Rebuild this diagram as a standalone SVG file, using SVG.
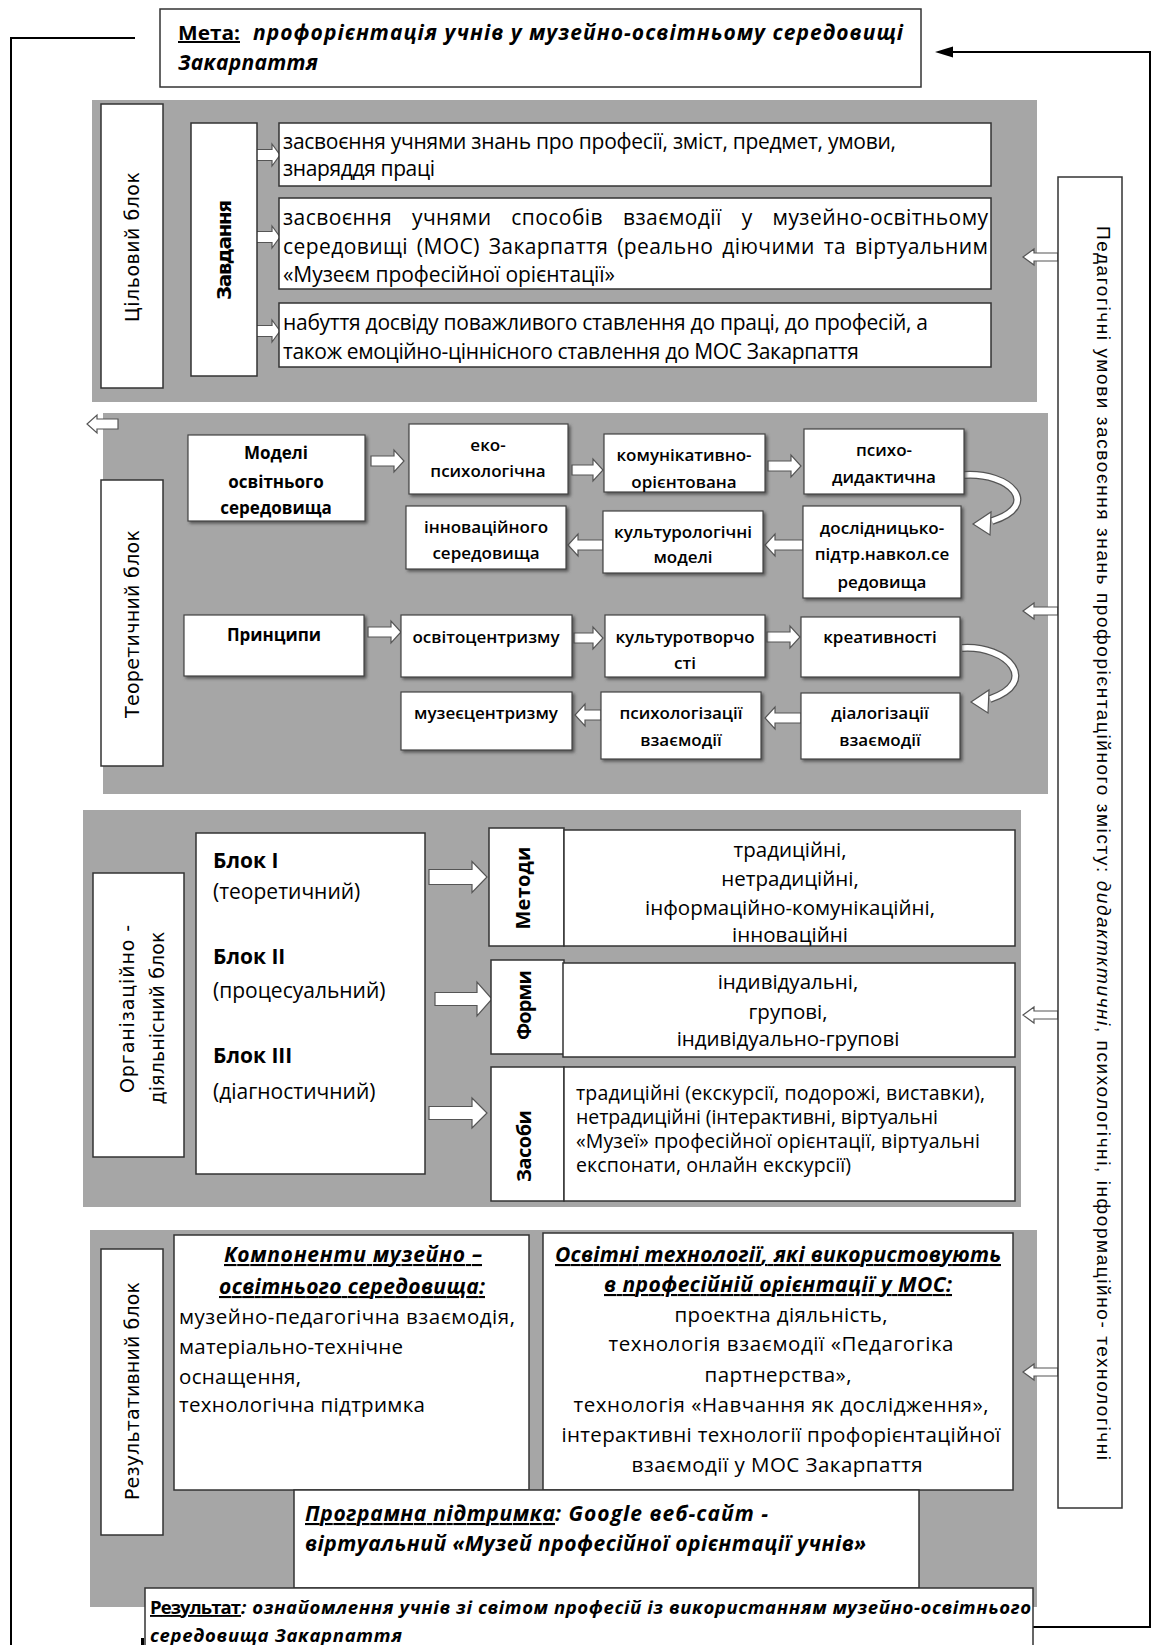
<svg xmlns="http://www.w3.org/2000/svg" width="1153" height="1645" viewBox="0 0 1153 1645">
<style>
.bg{fill:#fff}
.gray{fill:#a6a6a6}
.box{fill:#fff;stroke:#333;stroke-width:1.5}
.sbox{fill:#fff;stroke:#444;stroke-width:1.2;filter:url(#sh)}
.ha{fill:#fff;stroke:#555;stroke-width:1.2}
.ln{fill:none;stroke:#000;stroke-width:2}
.os{font-family:"Open Sans","Liberation Sans",sans-serif;fill:#000}
.ar{font-family:"Liberation Sans",Arial,sans-serif;fill:#000}
.dv{font-family:"DejaVu Sans","Liberation Sans",sans-serif;fill:#000}
.tk{font-size:21px}
.th{font-size:17px;font-weight:600;text-anchor:middle}
.thb{font-size:17px;font-weight:700;text-anchor:middle}
.vl{font-size:19px;text-anchor:middle}
.vb{font-size:20px;font-weight:700;text-anchor:middle}
.bi{font-weight:700;font-style:italic}
.u{text-decoration:underline}
.mid{text-anchor:middle}
</style>
<defs>
<filter id="sh" x="-10%" y="-10%" width="130%" height="130%">
<feDropShadow dx="2" dy="2" stdDeviation="1.5" flood-color="#444" flood-opacity="0.8"/>
</filter>
</defs>
<rect class="bg" x="0" y="0" width="1153" height="1645"/>

<!-- gray blocks -->
<rect class="gray" x="92" y="100" width="945" height="302"/>
<rect class="gray" x="103" y="413" width="945" height="381"/>
<rect class="gray" x="83" y="810" width="938" height="397"/>
<rect class="gray" x="90" y="1230" width="947" height="377"/>

<!-- connectors -->
<g id="connectors">
<polyline class="ln" points="135,38 11,38 11,1645"/>
<polyline class="ln" points="996,1627 1150,1627 1150,52 950,52"/>
<polygon points="935,52 953,46.5 953,57.5" fill="#000"/>
<rect x="141" y="1638" width="3" height="7" fill="#000"/>
<polygon class="ha" points="1058,253 1034,253 1034,249 1023,257 1034,265 1034,261 1058,261"/>
<polygon class="ha" points="1058,607 1034,607 1034,603 1023,611 1034,619 1034,615 1058,615"/>
<polygon class="ha" points="1058,1011 1034,1011 1034,1007 1023,1015 1034,1023 1034,1019 1058,1019"/>
<polygon class="ha" points="1058,1368 1034,1368 1034,1364 1023,1372 1034,1380 1034,1376 1058,1376"/>
<polygon class="ha" points="118,419 97,419 97,415 87,424 97,433 97,429 118,429"/>
<polygon class="ha" points="251,149.5 272,149.5 272,144 280,155 272,166 272,160.5 251,160.5"/>
<polygon class="ha" points="251,231.5 272,231.5 272,226 280,237 272,248 272,242.5 251,242.5"/>
<polygon class="ha" points="251,325.5 272,325.5 272,320 280,331 272,342 272,336.5 251,336.5"/>
<polygon class="ha" points="371,456 394,456 394,450 404,461 394,472 394,466 371,466"/>
<polygon class="ha" points="572,465 593,465 593,459 603,470 593,481 593,475 572,475"/>
<polygon class="ha" points="768,461 791,461 791,455 801,466 791,477 791,471 768,471"/>
<polygon class="ha" points="368,627 391,627 391,621 401,632 391,643 391,637 368,637"/>
<polygon class="ha" points="574,633 593,633 593,627 603,638 593,649 593,643 574,643"/>
<polygon class="ha" points="767,632 790,632 790,626 800,637 790,648 790,642 767,642"/>
<polygon class="ha" points="803,540 775,540 775,534 765,545 775,556 775,550 803,550"/>
<polygon class="ha" points="603,540 578,540 578,534 568,545 578,556 578,550 603,550"/>
<polygon class="ha" points="801,713 775,713 775,707 765,718 775,729 775,723 801,723"/>
<polygon class="ha" points="601,710 585,710 585,704 575,715 585,726 585,720 601,720"/>
<path d="M964,475 C1010,472 1042,505 992,521" fill="none" stroke="#555" stroke-width="8"/>
<path d="M964,475 C1010,472 1042,505 992,521" fill="none" stroke="#fff" stroke-width="5.5"/>
<polygon class="ha" points="973,524 991,512 990,535"/>
<path d="M962,648 C1008,645 1040,682 990,699" fill="none" stroke="#555" stroke-width="8"/>
<path d="M962,648 C1008,645 1040,682 990,699" fill="none" stroke="#fff" stroke-width="5.5"/>
<polygon class="ha" points="971,702 989,690 988,713"/>
<polygon class="ha" points="429,869.5 472,869.5 472,861.5 487,877 472,892.5 472,884.5 429,884.5"/>
<polygon class="ha" points="435,992.5 477,992.5 477,982 492,999 477,1016 477,1005.5 435,1005.5"/>
<polygon class="ha" points="429,1106.5 472,1106.5 472,1098 487,1113 472,1128 472,1119.5 429,1119.5"/>
</g>

<g id="meta">
<rect class="box" x="160" y="9" width="761" height="78"/>
<text class="os" x="178" y="40" font-size="20" font-weight="700" textLength="62" lengthAdjust="spacingAndGlyphs"><tspan class="u">Мета:</tspan></text>
<text class="os bi" x="253" y="40" font-size="21" textLength="650" lengthAdjust="spacing">профорієнтація учнів у музейно-освітньому середовищі</text>
<text class="os bi" x="178" y="70" font-size="21" textLength="140" lengthAdjust="spacing">Закарпаття</text>
</g>

<g id="umovy">
<rect class="box" x="1058" y="177" width="64" height="1331"/>
<text class="ar" transform="translate(1097,226) rotate(90)" font-size="19" textLength="1234" lengthAdjust="spacing">Педагогічні умови засвоєння знань профорієнтаційного змісту: <tspan font-style="italic">дидактктичні</tspan>, психологічні,  інформаційно- технологічні</text>
</g>

<g id="tsilovyi">
<rect class="box" x="101" y="104" width="62" height="284"/>
<text class="dv vl" transform="translate(139,247) rotate(-90)" textLength="150" lengthAdjust="spacing">Цільовий блок</text>
</g>
<g id="zavdannia">
<rect class="box" x="191" y="123" width="66" height="253"/>
<text class="dv vb" transform="translate(231,250) rotate(-90)" font-size="18" textLength="100" lengthAdjust="spacing">Завдання</text>
</g>
<g id="task1">
<rect class="box" x="279" y="123" width="712" height="63"/>
<text class="os tk" x="283" y="149" textLength="613" lengthAdjust="spacing">засвоєння учнями знань про професії, зміст, предмет, умови,</text>
<text class="os tk" x="283" y="176" textLength="152" lengthAdjust="spacing">знаряддя праці</text>
</g>
<g id="task2">
<rect class="box" x="279" y="198" width="712" height="91"/>
<text class="os tk" x="283" y="225" word-spacing="14" textLength="705" lengthAdjust="spacing">засвоєння учнями способів взаємодії у музейно-освітньому</text>
<text class="os tk" x="283" y="254" word-spacing="3" textLength="705" lengthAdjust="spacing">середовищі (МОС) Закарпаття (реально діючими та віртуальним</text>
<text class="os tk" x="283" y="282" textLength="332" lengthAdjust="spacing">«Музеєм професійної орієнтації»</text>
</g>
<g id="task3">
<rect class="box" x="279" y="303" width="712" height="64"/>
<text class="os tk" x="283" y="330" textLength="645" lengthAdjust="spacing">набуття досвіду поважливого ставлення до праці, до професій, а</text>
<text class="os tk" x="283" y="359" textLength="576" lengthAdjust="spacing">також емоційно-ціннісного ставлення до МОС Закарпаття</text>
</g>

<g id="teoretychnyi">
<rect class="box" x="101" y="480" width="62" height="286"/>
<text class="dv vl" transform="translate(139,624) rotate(-90)" textLength="188" lengthAdjust="spacing">Теоретичний блок</text>
</g>
<g id="modeli">
<rect class="sbox" x="188" y="435" width="177" height="86"/>
<text class="os thb" x="276" y="459">Моделі</text>
<text class="os thb" x="276" y="488">освітнього</text>
<text class="os thb" x="276" y="514">середовища</text>
</g>
<g id="eko">
<rect class="sbox" x="409" y="424" width="159" height="70"/>
<text class="os th" x="488" y="451">еко-</text>
<text class="os th" x="488" y="477">психологічна</text>
</g>
<g id="komun">
<rect class="sbox" x="604" y="434" width="161" height="58"/>
<text class="os th" x="684" y="461">комунікативно-</text>
<text class="os th" x="684" y="488">орієнтована</text>
</g>
<g id="psykho">
<rect class="sbox" x="804" y="429" width="160" height="65"/>
<text class="os th" x="884" y="456">психо-</text>
<text class="os th" x="884" y="483">дидактична</text>
</g>
<g id="doslid">
<rect class="sbox" x="803" y="506" width="158" height="92"/>
<text class="os th" x="882" y="534">дослідницько-</text>
<text class="os th" x="882" y="560">підтр.навкол.се</text>
<text class="os th" x="882" y="588">редовища</text>
</g>
<g id="kulturol">
<rect class="sbox" x="603" y="511" width="160" height="62"/>
<text class="os th" x="683" y="538">культурологічні</text>
<text class="os th" x="683" y="563">моделі</text>
</g>
<g id="innov">
<rect class="sbox" x="406" y="506" width="160" height="63"/>
<text class="os th" x="486" y="533">інноваційного</text>
<text class="os th" x="486" y="559">середовища</text>
</g>
<g id="pryntsypy">
<rect class="sbox" x="184" y="615" width="180" height="61"/>
<text class="os thb" x="274" y="641">Принципи</text>
</g>
<g id="osvito">
<rect class="sbox" x="401" y="615" width="171" height="62"/>
<text class="os th" x="486" y="643">освітоцентризму</text>
</g>
<g id="kulturotv">
<rect class="sbox" x="605" y="615" width="160" height="62"/>
<text class="os th" x="685" y="643">культуротворчо</text>
<text class="os th" x="685" y="669">сті</text>
</g>
<g id="kreat">
<rect class="sbox" x="801" y="617" width="159" height="60"/>
<text class="os th" x="880" y="643">креативності</text>
</g>
<g id="dialog">
<rect class="sbox" x="801" y="693" width="159" height="66"/>
<text class="os th" x="880" y="719">діалогізації</text>
<text class="os th" x="880" y="746">взаємодії</text>
</g>
<g id="psykholog">
<rect class="sbox" x="601" y="692" width="160" height="67"/>
<text class="os th" x="681" y="719">психологізації</text>
<text class="os th" x="681" y="746">взаємодії</text>
</g>
<g id="muzeie">
<rect class="sbox" x="401" y="692" width="171" height="58"/>
<text class="os th" x="486" y="719">музеєцентризму</text>
</g>

<g id="orh">
<rect class="box" x="93" y="873" width="91" height="284"/>
<text class="dv vl" transform="translate(134,1009) rotate(-90)" textLength="168" lengthAdjust="spacing">Організаційно -</text>
<text class="dv vl" transform="translate(164,1018) rotate(-90)" textLength="173" lengthAdjust="spacing">діяльнісний блок</text>
</g>
<g id="bloky">
<rect class="box" x="196" y="833" width="229" height="341"/>
<text class="os" x="213" y="868" font-size="21" font-weight="700">Блок I</text>
<text class="os" x="213" y="899" font-size="21">(теоретичний)</text>
<text class="os" x="213" y="964" font-size="21" font-weight="700">Блок II</text>
<text class="os" x="213" y="998" font-size="21">(процесуальний)</text>
<text class="os" x="213" y="1063" font-size="21" font-weight="700">Блок III</text>
<text class="os" x="213" y="1099" font-size="21">(діагностичний)</text>
</g>
<g id="metody">
<rect class="box" x="489" y="828" width="75" height="118"/>
<rect class="box" x="564" y="830" width="451" height="116"/>
<text class="os vb" transform="translate(530,888) rotate(-90)" textLength="83" lengthAdjust="spacing">Методи</text>
<text class="os mid" x="790" y="857" font-size="20.5">традиційні,</text>
<text class="os mid" x="790" y="886" font-size="20.5">нетрадиційні,</text>
<text class="os mid" x="790" y="915" font-size="20.5">інформаційно-комунікаційні,</text>
<text class="os mid" x="790" y="942" font-size="20.5">інноваційні</text>
</g>
<g id="formy">
<rect class="box" x="491" y="960" width="73" height="94"/>
<rect class="box" x="563" y="963" width="452" height="94"/>
<text class="os vb" transform="translate(531,1005) rotate(-90)" textLength="70" lengthAdjust="spacing">Форми</text>
<text class="os mid" x="788" y="989" font-size="20.5">індивідуальні,</text>
<text class="os mid" x="788" y="1019" font-size="20.5">групові,</text>
<text class="os mid" x="788" y="1046" font-size="20.5">індивідуально-групові</text>
</g>
<g id="zasoby">
<rect class="box" x="491" y="1067" width="73" height="134"/>
<rect class="box" x="564" y="1067" width="451" height="134"/>
<text class="os vb" transform="translate(531,1146) rotate(-90)" textLength="72" lengthAdjust="spacing">Засоби</text>
<text class="os" x="576" y="1100" font-size="19.5" textLength="409" lengthAdjust="spacing">традиційні (екскурсії, подорожі, виставки),</text>
<text class="os" x="576" y="1124" font-size="19.5" textLength="362" lengthAdjust="spacing">нетрадиційні (інтерактивні, віртуальні</text>
<text class="os" x="576" y="1148" font-size="19.5" textLength="404" lengthAdjust="spacing">«Музеї» професійної орієнтації, віртуальні</text>
<text class="os" x="576" y="1172" font-size="19.5" textLength="275" lengthAdjust="spacing">експонати, онлайн екскурсії)</text>
</g>

<g id="rezultatyvnyi">
<rect class="box" x="101" y="1249" width="62" height="286"/>
<text class="dv vl" transform="translate(139,1391) rotate(-90)" textLength="218" lengthAdjust="spacing">Результативний блок</text>
</g>
<g id="komponenty">
<rect class="box" x="174" y="1235" width="355" height="255"/>
<text class="os bi u mid" x="353" y="1262" font-size="21" textLength="258" lengthAdjust="spacing">Компоненти музейно –</text>
<text class="os bi u mid" x="352" y="1294" font-size="21" textLength="266" lengthAdjust="spacing">освітнього середовища:</text>
<text class="os" x="179" y="1324" font-size="20.5" textLength="336" lengthAdjust="spacing">музейно-педагогічна взаємодія,</text>
<text class="os" x="179" y="1354" font-size="20.5" textLength="224" lengthAdjust="spacing">матеріально-технічне</text>
<text class="os" x="179" y="1384" font-size="20.5" textLength="122" lengthAdjust="spacing">оснащення,</text>
<text class="os" x="179" y="1412" font-size="20.5" textLength="246" lengthAdjust="spacing">технологічна підтримка</text>
</g>
<g id="tekhnolohii">
<rect class="box" x="543" y="1233" width="470" height="257"/>
<text class="os bi u mid" x="778" y="1262" font-size="21" textLength="446" lengthAdjust="spacing">Освітні технології, які використовують</text>
<text class="os bi u mid" x="778" y="1292" font-size="21" textLength="348" lengthAdjust="spacing">в професійній орієнтації у МОС:</text>
<text class="os mid" x="781" y="1322" font-size="20.5" textLength="213" lengthAdjust="spacing">проектна діяльність,</text>
<text class="os mid" x="781" y="1351" font-size="20.5" textLength="345" lengthAdjust="spacing">технологія взаємодії «Педагогіка</text>
<text class="os mid" x="778" y="1382" font-size="20.5" textLength="147" lengthAdjust="spacing">партнерства»,</text>
<text class="os mid" x="781" y="1412" font-size="20.5" textLength="415" lengthAdjust="spacing">технологія «Навчання як дослідження»,</text>
<text class="os mid" x="781" y="1442" font-size="20.5" textLength="439" lengthAdjust="spacing">інтерактивні технології профорієнтаційної</text>
<text class="os mid" x="777" y="1472" font-size="20.5" textLength="291" lengthAdjust="spacing">взаємодії у МОС Закарпаття</text>
</g>
<g id="prohramna">
<rect class="box" x="294" y="1490" width="625" height="98"/>
<text class="os bi u" x="305" y="1521" font-size="21" textLength="250" lengthAdjust="spacing">Програмна підтримка</text>
<text class="os bi" x="555" y="1521" font-size="21" textLength="213" lengthAdjust="spacing">: Google веб-сайт  -</text>
<text class="os bi" x="305" y="1551" font-size="21" textLength="561" lengthAdjust="spacing">віртуальний «Музей професійної орієнтації учнів»</text>
</g>
<g id="rezultat">
<rect class="box" x="145" y="1588" width="888" height="70"/>
<text class="os u" x="150" y="1614" font-size="18.5" font-weight="700" textLength="91" lengthAdjust="spacing">Результат</text>
<text class="os bi" x="241" y="1614" font-size="18.5" textLength="790" lengthAdjust="spacing">: ознайомлення учнів зі світом професій із використанням музейно-освітнього</text>
<text class="os bi" x="150" y="1642" font-size="18.5" textLength="252" lengthAdjust="spacing">середовища Закарпаття</text>
</g>
</svg>
